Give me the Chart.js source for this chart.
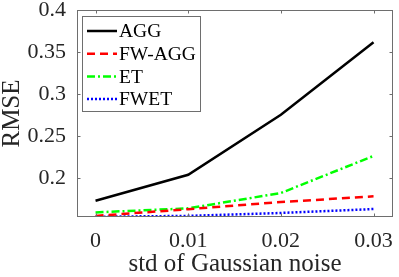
<!DOCTYPE html>
<html>
<head>
<meta charset="utf-8">
<script src="https://cdn.jsdelivr.net/npm/chart.js@4/dist/chart.umd.min.js"></script>
<style>
  html, body { margin: 0; padding: 0; background: #fff; }
  #wrap { width: 399px; height: 277px; position: relative; }
</style>
</head>
<body>
<div id="wrap"><canvas id="c"></canvas></div>
<script>
const noiseStd = [0, 0.01, 0.02, 0.03];
const xTickLabels = ['0', '0.01', '0.02', '0.03'];
const yTickValues = [0.2, 0.25, 0.3, 0.35, 0.4];
const yTickLabels = ['0.2', '0.25', '0.3', '0.35', '0.4'];

const aggVals = [0.1726, 0.2036, 0.275, 0.3615];
const fwAggVals = [0.1545, 0.1625, 0.171, 0.1778];
const etVals = [0.1587, 0.1635, 0.1818, 0.226];
const fwetVals = [0.1535, 0.1545, 0.158, 0.1627];

const font = 'Liberation Serif';
const axisColor = '#262626';

const toPoints = vals => vals.map((v, i) => ({ x: noiseStd[i], y: v }));

// box + inward ticks + legend, MATLAB style
const boxPlugin = {
    id: 'box',
    afterDraw(chart) {
        const ctx = chart.ctx;
        const a = chart.chartArea;
        const xs = chart.scales.x, ys = chart.scales.y;
        const tl = 3.5;
        ctx.save();
        ctx.strokeStyle = '#6e6e6e';
        ctx.lineWidth = 1;
        ctx.strokeRect(a.left + 0.5, a.top + 0.5, a.right - a.left - 1, a.bottom - a.top - 1);
        ctx.beginPath();
        noiseStd.forEach(v => {
            const px = Math.round(xs.getPixelForValue(v)) + 0.5;
            ctx.moveTo(px, a.bottom); ctx.lineTo(px, a.bottom - tl);
            ctx.moveTo(px, a.top); ctx.lineTo(px, a.top + tl);
        });
        yTickValues.forEach(v => {
            const py = Math.round(ys.getPixelForValue(v)) + 0.5;
            ctx.moveTo(a.left, py); ctx.lineTo(a.left + tl, py);
            ctx.moveTo(a.right, py); ctx.lineTo(a.right - tl, py);
        });
        ctx.stroke();

        // legend
        const lx = 82.5, ly = 16.5, lw = 118, lh = 95;
        ctx.fillStyle = '#fff';
        ctx.fillRect(lx, ly, lw, lh);
        ctx.strokeStyle = '#6e6e6e';
        ctx.strokeRect(lx, ly, lw, lh);
        ctx.font = '19.5px "' + font + '"';
        ctx.textBaseline = 'middle';
        chart.data.datasets.forEach((ds, i) => {
            const y = 31 + i * 22.7;
            ctx.strokeStyle = ds.borderColor;
            ctx.lineWidth = ds.borderWidth;
            ctx.setLineDash(ds.borderDash || []);
            ctx.beginPath();
            ctx.moveTo(87, y); ctx.lineTo(117, y);
            ctx.stroke();
            ctx.setLineDash([]);
            ctx.fillStyle = '#000';
            ctx.fillText(ds.label, 119, y + 1);
        });
        ctx.restore();
    }
};

new Chart(document.getElementById('c'), {
    type: 'line',
    data: {
        datasets: [
            { label: 'AGG', data: toPoints(aggVals), borderColor: '#000000', borderWidth: 2.5 },
            { label: 'FW-AGG', data: toPoints(fwAggVals), borderColor: '#ff0000', borderWidth: 2.5, borderDash: [8, 5] },
            { label: 'ET', data: toPoints(etVals), borderColor: '#00ff00', borderWidth: 2.5, borderDash: [8, 3, 2, 3] },
            { label: 'FWET', data: toPoints(fwetVals), borderColor: '#0000ff', borderWidth: 2.5, borderDash: [2, 2] }
        ]
    },
    options: {
        responsive: true,
        maintainAspectRatio: false,
        animation: false,
        devicePixelRatio: 1,
        layout: { padding: { top: 10, right: 6, left: 0, bottom: 0 } },
        elements: { point: { radius: 0 }, line: { tension: 0, fill: false } },
        plugins: { legend: { display: false }, tooltip: { enabled: false } },
        scales: {
            x: {
                type: 'linear',
                min: -0.002,
                max: 0.0321,
                grid: { display: false },
                border: { display: false },
                afterBuildTicks: s => { s.ticks = noiseStd.map(v => ({ value: v })); },
                afterFit: s => { s.height = 60; s.paddingLeft = 0; s.paddingRight = 0; },
                ticks: {
                    color: axisColor,
                    padding: 3,
                    maxRotation: 0,
                    font: { family: font, size: 22 },
                    callback: v => xTickLabels[noiseStd.indexOf(v)]
                },
                title: {
                    display: true,
                    text: 'std of Gaussian noise',
                    color: axisColor,
                    font: { family: font, size: 25, lineHeight: 1 },
                    padding: { top: 0, bottom: 0 }
                }
            },
            y: {
                min: 0.1532,
                max: 0.4,
                grid: { display: false },
                border: { display: false },
                afterBuildTicks: s => { s.ticks = yTickValues.map(v => ({ value: v })); },
                afterFit: s => { s.width = 77; s.paddingTop = 0; s.paddingBottom = 0; },
                ticks: {
                    color: axisColor,
                    padding: 3,
                    font: { family: font, size: 22 },
                    callback: v => yTickLabels[yTickValues.findIndex(t => Math.abs(t - v) < 1e-9)]
                },
                title: {
                    display: true,
                    text: 'RMSE',
                    color: axisColor,
                    font: { family: font, size: 25, lineHeight: 1 },
                    padding: { top: 0, bottom: 0 }
                }
            }
        }
    },
    plugins: [boxPlugin]
});
</script>
</body>
</html>
